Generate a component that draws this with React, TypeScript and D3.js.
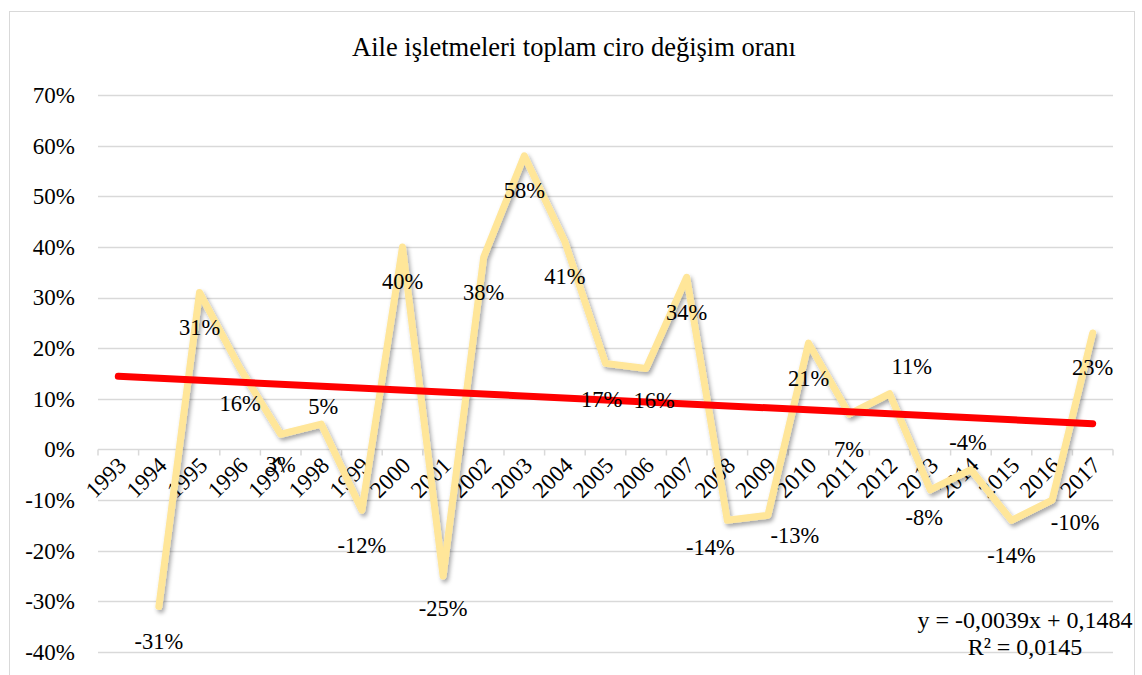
import * as d3 from 'd3';
import { useEffect, useRef } from 'react';

// data
const years = [
  '1993', '1994', '1995', '1996', '1997', '1998', '1999', '2000', '2001',
  '2002', '2003', '2004', '2005', '2006', '2007', '2008', '2009', '2010',
  '2011', '2012', '2013', '2014', '2015', '2016', '2017',
];
const changeRate: (number | null)[] = [
  null, -0.31, 0.31, 0.16, 0.03, 0.05, -0.12, 0.40, -0.25,
  0.38, 0.58, 0.41, 0.17, 0.16, 0.34, -0.14, -0.13, 0.21,
  0.07, 0.11, -0.08, -0.04, -0.14, -0.10, 0.23,
];
const yTicks = [-0.4, -0.3, -0.2, -0.1, 0, 0.1, 0.2, 0.3, 0.4, 0.5, 0.6, 0.7];
const trendSlope = -0.0039;
const trendIntercept = 0.1484;
const trendText = ['y = -0,0039x + 0,1484', 'R² = 0,0145'];
const title = 'Aile işletmeleri toplam ciro değişim oranı';

// manual label placement, like the hand-dragged labels in the original
const labelNudge: Record<string, [number, number]> = {
  '1997': [0, 30],
  '1998': [2, -18],
  '2001': [0, 32],
  '2005': [-4, 36],
  '2006': [8, 32],
  '2008': [-17, 27],
  '2009': [27, 20],
  '2012': [22, -27],
  '2013': [-6, 28],
  '2014': [-3, -27],
  '2016': [23, 22],
};

const W = 1142;
const H = 675;
const FONT = '"Liberation Serif", "Times New Roman", serif';

export default function App() {
  const ref = useRef<SVGSVGElement>(null);

  useEffect(() => {
    const svg = d3.select(ref.current);
    svg.selectAll('*').remove();

    const left = 98;
    const right = 1113;

    const x = d3.scaleBand<string>().domain(years).range([left, right]);
    const cx = (yr: string) => (x(yr) as number) + x.bandwidth() / 2;
    const y = d3.scaleLinear().domain([-0.4, 0.7]).range([652, 95]);

    const defs = svg.append('defs');
    const f = defs.append('filter').attr('id', 'shadow')
      .attr('x', '-20%').attr('y', '-20%').attr('width', '140%').attr('height', '140%');
    f.append('feDropShadow')
      .attr('dx', 2).attr('dy', 3).attr('stdDeviation', 2)
      .attr('flood-color', '#000').attr('flood-opacity', 0.35);

    svg.append('rect')
      .attr('x', 9.5).attr('y', 11.5)
      .attr('width', 1125).attr('height', 700)
      .attr('fill', '#fff').attr('stroke', '#d9d9d9');

    svg.append('text')
      .attr('x', 574).attr('y', 47)
      .attr('text-anchor', 'middle').attr('dominant-baseline', 'central')
      .attr('font-family', FONT).attr('font-size', 26.5)
      .attr('fill', '#000')
      .text(title);

    // gridlines
    svg.append('g').selectAll('line')
      .data(yTicks.filter(t => t !== 0))
      .enter().append('line')
      .attr('x1', left).attr('x2', right)
      .attr('y1', d => Math.round(y(d)) + 0.5).attr('y2', d => Math.round(y(d)) + 0.5)
      .attr('stroke', '#d9d9d9').attr('stroke-width', 1.5);

    const yAxis = svg.append('g')
      .attr('transform', `translate(${left},0)`)
      .call(d3.axisLeft(y).tickValues(yTicks).tickSize(0).tickPadding(23)
        .tickFormat(d => `${Math.round((d as number) * 100)}%`));
    yAxis.attr('font-family', FONT).attr('font-size', 23);
    yAxis.select('.domain').remove();
    yAxis.selectAll('text').attr('fill', '#000');

    // category axis at 0%
    const x0 = Math.round(y(0)) + 0.5;
    const xAxis = svg.append('g').attr('transform', `translate(0,${x0})`);
    xAxis.append('line')
      .attr('x1', left).attr('x2', right)
      .attr('stroke', '#d9d9d9').attr('stroke-width', 1.5);
    xAxis.selectAll('line.tick')
      .data([...years.map(yr => x(yr) as number), right])
      .enter().append('line')
      .attr('class', 'tick')
      .attr('x1', d => d).attr('x2', d => d)
      .attr('y1', 0).attr('y2', 6)
      .attr('stroke', '#d9d9d9').attr('stroke-width', 1.5);
    xAxis.selectAll('text')
      .data(years)
      .enter().append('text')
      .attr('transform', d => `translate(${cx(d) + 4},${12}) rotate(-45)`)
      .attr('text-anchor', 'end').attr('dominant-baseline', 'central')
      .attr('font-family', FONT).attr('font-size', 23).attr('fill', '#000')
      .text(d => d);

    // series line
    const pts = years.map((yr, i) => ({ yr, v: changeRate[i] }))
      .filter(d => d.v !== null) as { yr: string; v: number }[];
    const line = d3.line<{ yr: string; v: number }>()
      .x(d => cx(d.yr)).y(d => y(d.v));
    svg.append('path')
      .datum(pts)
      .attr('d', line)
      .attr('fill', 'none')
      .attr('stroke', '#ffe699').attr('stroke-width', 7)
      .attr('stroke-linejoin', 'round').attr('stroke-linecap', 'round')
      .attr('filter', 'url(#shadow)');

    // linear trendline (x = 1..n)
    const tr = [years[0], years[years.length - 1]].map(yr => ({
      yr, v: trendIntercept + trendSlope * (years.indexOf(yr) + 1),
    }));
    svg.append('path')
      .datum(tr)
      .attr('d', line)
      .attr('fill', 'none')
      .attr('stroke', '#ff0000').attr('stroke-width', 7)
      .attr('stroke-linecap', 'round');

    // data labels
    svg.append('g').selectAll('text')
      .data(pts)
      .enter().append('text')
      .attr('x', d => cx(d.yr) + (labelNudge[d.yr]?.[0] ?? 0))
      .attr('y', d => y(d.v) + (labelNudge[d.yr]?.[1] ?? 35))
      .attr('text-anchor', 'middle').attr('dominant-baseline', 'central')
      .attr('font-family', FONT).attr('font-size', 22.5).attr('fill', '#000')
      .text(d => `${Math.round(d.v * 100)}%`);

    // trendline equation
    svg.append('g').selectAll('text')
      .data(trendText)
      .enter().append('text')
      .attr('x', 1025).attr('y', (d, i) => 620 + i * 27)
      .attr('text-anchor', 'middle').attr('dominant-baseline', 'central')
      .attr('font-family', FONT).attr('font-size', 24).attr('fill', '#000')
      .text(d => d);

    return () => {
      svg.selectAll('*').remove();
    };
  }, []);

  return (
    <svg
      ref={ref}
      width={W}
      height={H}
      style={{ position: 'absolute', left: 0, top: 0, background: '#fff' }}
    />
  );
}
